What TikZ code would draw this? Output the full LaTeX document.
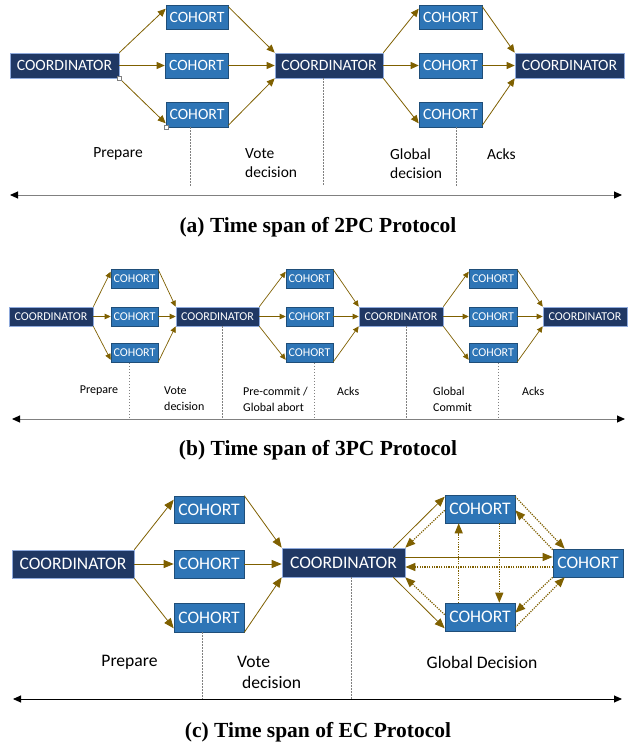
\documentclass[tikz,border=0pt]{standalone}
\usepackage{fontspec}
\setmainfont{Carlito}
\newfontfamily\capfont{Liberation Serif}
\usetikzlibrary{arrows.meta,calc}
\definecolor{navy}{HTML}{203864}
\definecolor{navyline}{HTML}{8FAADC}
\definecolor{cblue}{HTML}{2E75B6}
\definecolor{cline}{HTML}{1F4E79}
\definecolor{olive}{HTML}{7F6000}
\definecolor{axgray}{HTML}{808080}
\begin{document}
\begin{tikzpicture}[x=1pt,y=-1pt,
  coordbox/.style={fill=navy,draw=navyline,line width=0.6pt,text=white,inner sep=0pt},
  cohortbox/.style={fill=cblue,draw=cline,line width=0.6pt,text=white,inner sep=0pt},
  pa/.style={font=\fontsize{15.7}{19}\selectfont,minimum height=25pt},
  pb/.style={font=\fontsize{12}{15}\selectfont,minimum height=19pt},
  pc/.style={font=\fontsize{17.6}{21}\selectfont,minimum height=28pt},
  lbla/.style={inner sep=0pt,align=left,font=\fontsize{15.5}{19}\selectfont},
  lblb/.style={inner sep=0pt,align=left,font=\fontsize{12}{16}\selectfont},
  lblc/.style={inner sep=0pt,align=left,font=\fontsize{17.6}{21}\selectfont},
  flowa/.style={draw=olive,line width=0.8pt,-{Triangle[length=8pt,width=7pt]}},
  flowb/.style={draw=olive,line width=0.7pt,-{Triangle[length=6pt,width=5.5pt]}},
  flowc/.style={draw=olive,line width=0.8pt,-{Triangle[length=10pt,width=8pt]}},
  dotc/.style={draw=olive,line width=1.2pt,dash pattern=on 1.2pt off 1.2pt,-{Triangle[length=10pt,width=8pt]}},
  tick/.style={draw=axgray,line width=0.8pt,dash pattern=on 1.5pt off 1.5pt},
  axis/.style={draw=axgray,line width=1pt,{Triangle[length=8pt,width=7pt,color=black]}-{Triangle[length=8pt,width=7pt,color=black]}},
  axisc/.style={draw=black,line width=0.9pt,{Triangle[length=8pt,width=7pt,color=black]}-{Triangle[length=8pt,width=7pt,color=black]}},
  handle/.style={draw=gray,fill=white,line width=0.4pt,inner sep=0pt,minimum size=4pt},
  captxt/.style={inner sep=0pt,font=\capfont\bfseries\fontsize{21.5}{25}\selectfont}
]
\useasboundingbox[fill=white] (0,0) rectangle (638,747);

% ===================== (a) =====================
\node[coordbox,pa,minimum width=109pt] (a1) at (64.5,65.5) {COORDINATOR};
\node[cohortbox,pa,minimum width=62pt,minimum height=24pt] (at) at (197,17) {COHORT};
\node[cohortbox,pa,minimum width=63pt] (am) at (196.5,65.5) {COHORT};
\node[cohortbox,pa,minimum width=62pt] (ab) at (197,114.5) {COHORT};
\node[coordbox,pa,minimum width=108pt] (a2) at (329,65.5) {COORDINATOR};
\node[cohortbox,pa,minimum width=63pt,minimum height=24pt] (bt) at (450.5,17) {COHORT};
\node[cohortbox,pa,minimum width=63pt] (bm) at (450.5,65.5) {COHORT};
\node[cohortbox,pa,minimum width=63pt] (bb) at (450.5,114.5) {COHORT};
\node[coordbox,pa,minimum width=109pt] (a3) at (569.5,65.5) {COORDINATOR};

\draw[flowa] (a1.north east) -- ($(at.north west)+(0,4)$);
\draw[flowa] (a1.east) -- (am.west);
\draw[flowa] (a1.south east) -- ($(ab.south west)+(0,-4)$);
\draw[flowa] ($(at.north east)+(0,2)$) -- (a2.north west);
\draw[flowa] (am.east) -- (a2.west);
\draw[flowa] ($(ab.south east)+(0,-2)$) -- (a2.south west);
\draw[flowa] (a2.north east) -- ($(bt.north west)+(0,4)$);
\draw[flowa] (a2.east) -- (bm.west);
\draw[flowa] (a2.south east) -- ($(bb.south west)+(0,-4)$);
\draw[flowa] ($(bt.north east)+(0,2)$) -- (a3.north west);
\draw[flowa] (bm.east) -- (a3.west);
\draw[flowa] ($(bb.south east)+(0,-2)$) -- (a3.south west);

\node[handle] (h1) at (a1.south east) {};
\node[handle] (h2) at (ab.south west) {};

\coordinate (ta1) at (190,186);
\coordinate (ta2) at (323,186);
\coordinate (ta3) at (456,186);
\draw[tick] (ab.south -| ta1) -- (ta1);
\draw[tick] (a2.south -| ta2) -- (ta2);
\draw[tick] (bb.south -| ta3) -- (ta3);

\node[lbla] (la1) at (118,154) {Prepare};
\node[lbla,anchor=west] (la2) at (245,163.5) {Vote\\decision};
\node[lbla,anchor=west] (la3) at (390,163.5) {Global\\decision};
\node[lbla,anchor=west] (la4) at (487,154) {Acks};

\coordinate (axaL) at (10,195);
\coordinate (axaR) at (622,195);
\draw[axis] (axaL) -- (axaR);
\node[captxt] (capa) at (318,227) {(a) Time span of 2PC Protocol};

% ===================== (b) =====================
\node[coordbox,pb,minimum width=84pt] (b1) at (51,316.5) {COORDINATOR};
\node[cohortbox,pb,minimum width=47pt] (p1t) at (134.5,278.5) {COHORT};
\node[cohortbox,pb,minimum width=47pt] (p1m) at (134.5,316.5) {COHORT};
\node[cohortbox,pb,minimum width=47pt] (p1b) at (134.5,353) {COHORT};
\node[coordbox,pb,minimum width=83pt] (b2) at (217.5,316.5) {COORDINATOR};
\node[cohortbox,pb,minimum width=47pt] (p2t) at (309.5,278.5) {COHORT};
\node[cohortbox,pb,minimum width=47pt] (p2m) at (309.5,316.5) {COHORT};
\node[cohortbox,pb,minimum width=47pt] (p2b) at (309.5,353) {COHORT};
\node[coordbox,pb,minimum width=84pt] (b3) at (401,316.5) {COORDINATOR};
\node[cohortbox,pb,minimum width=48pt] (p3t) at (493,278.5) {COHORT};
\node[cohortbox,pb,minimum width=48pt] (p3m) at (493,316.5) {COHORT};
\node[cohortbox,pb,minimum width=48pt] (p3b) at (493,353) {COHORT};
\node[coordbox,pb,minimum width=84pt] (b4) at (585,316.5) {COORDINATOR};

\foreach \src/\t/\m/\b/\dst in {b1/p1t/p1m/p1b/b2, b2/p2t/p2m/p2b/b3, b3/p3t/p3m/p3b/b4}{
  \draw[flowb] (\src.north east) -- ($(\t.north west)+(0,3)$);
  \draw[flowb] (\src.east) -- (\m.west);
  \draw[flowb] (\src.south east) -- ($(\b.south west)+(0,-3)$);
  \draw[flowb] ($(\t.north east)+(0,1)$) -- (\dst.north west);
  \draw[flowb] (\m.east) -- (\dst.west);
  \draw[flowb] ($(\b.south east)+(0,-1)$) -- (\dst.south west);
}

\coordinate (tb1) at (129,418);
\coordinate (tb2) at (222,418);
\coordinate (tb3) at (314,418);
\coordinate (tb4) at (406,418);
\coordinate (tb5) at (498,418);
\draw[tick] (p1b.south -| tb1) -- (tb1);
\draw[tick] (b2.south -| tb2) -- (tb2);
\draw[tick] (p2b.south -| tb3) -- (tb3);
\draw[tick] (b3.south -| tb4) -- (tb4);
\draw[tick] (p3b.south -| tb5) -- (tb5);

\node[lblb] (lb1) at (99,391) {Prepare};
\node[lblb,anchor=west] (lb2) at (164,399) {Vote\\decision};
\node[lblb,anchor=west] (lb3) at (243,399) {Pre-commit /\\Global abort};
\node[lblb,anchor=west] (lb4) at (337,391) {Acks};
\node[lblb,anchor=west] (lb5) at (433,399) {Global\\Commit};
\node[lblb,anchor=west] (lb6) at (522,391) {Acks};

\coordinate (axbL) at (12,419);
\coordinate (axbR) at (625,419);
\draw[axis] (axbL) -- (axbR);
\node[captxt] (capb) at (318,450) {(b) Time span of 3PC Protocol};

% ===================== (c) =====================
\node[coordbox,pc,minimum width=122pt] (c1) at (73,564) {COORDINATOR};
\node[cohortbox,pc,minimum width=70pt,minimum height=27pt] (dt) at (209,509.5) {COHORT};
\node[cohortbox,pc,minimum width=70pt] (dm) at (209,564) {COHORT};
\node[cohortbox,pc,minimum width=70pt,minimum height=29pt] (db) at (209,617.5) {COHORT};
\node[coordbox,pc,minimum width=123pt,minimum height=29pt] (c2) at (343.5,562.5) {COORDINATOR};
\node[cohortbox,pc,minimum width=70pt] (et) at (480,509) {COHORT};
\node[cohortbox,pc,minimum width=70pt] (er) at (588,563) {COHORT};
\node[cohortbox,pc,minimum width=70pt] (eb) at (480,617) {COHORT};

\draw[flowc] (c1.north east) -- ($(dt.north west)+(0,4)$);
\draw[flowc] (c1.east) -- (dm.west);
\draw[flowc] (c1.south east) -- ($(db.south west)+(0,-4)$);
\draw[flowc] (dt.north east) -- (c2.north west);
\draw[flowc] (dm.east) -- (dm.east -| c2.west);
\draw[flowc] (db.south east) -- (c2.south west);

% EC global decision
\draw[flowc] ($(c2.north east)+(-12,0)$) -- ($(et.north west)+(0,2)$);
\draw[dotc] ($(et.south west)+(0,-13)$) -- (c2.north east);
\coordinate (hh1) at ($(c2.east)+(0,-5.5)$);
\draw[flowc] (hh1) -- (hh1 -| er.west);
\coordinate (hh2) at ($(er.west)+(0,4)$);
\draw[dotc] (hh2) -- (hh2 -| c2.east);
\draw[flowc] ($(c2.south east)+(-12,0)$) -- ($(eb.south west)+(0,-3)$);
\draw[dotc] ($(eb.north west)+(0,12)$) -- (c2.south east);
\coordinate (vv1) at ($(eb.north west)+(14,0)$);
\draw[dotc] (vv1) -- (vv1 |- et.south);
\coordinate (vv2) at ($(et.south east)+(-16,0)$);
\draw[dotc] (vv2) -- (vv2 |- eb.north);
\draw[dotc] ($(et.north east)+(0,2)$) -- ($(er.north west)+(12,0)$);
\draw[dotc] ($(er.north west)+(0,1)$) -- ($(et.south east)+(0,-13)$);
\draw[dotc] ($(eb.south east)+(0,-4)$) -- ($(er.south west)+(12,0)$);
\draw[dotc] (er.south west) -- ($(eb.north east)+(0,10)$);

\coordinate (tc1) at (202,699);
\coordinate (tc2) at (351,699);
\draw[tick] (db.south -| tc1) -- (tc1);
\draw[tick] (c2.south -| tc2) -- (tc2);

\node[lblc] (lc1) at (129.5,662) {Prepare};
\node[lblc,anchor=west] (lc2) at (237,672) {Vote\\\hspace*{5pt}decision};
\node[lblc] (lc3) at (482,662) {Global Decision};

\coordinate (axcL) at (13,699);
\coordinate (axcR) at (622,699);
\draw[axisc] (axcL) -- (axcR);
\node[captxt] (capc) at (318,732) {(c) Time span of EC Protocol};
\end{tikzpicture}
\end{document}
